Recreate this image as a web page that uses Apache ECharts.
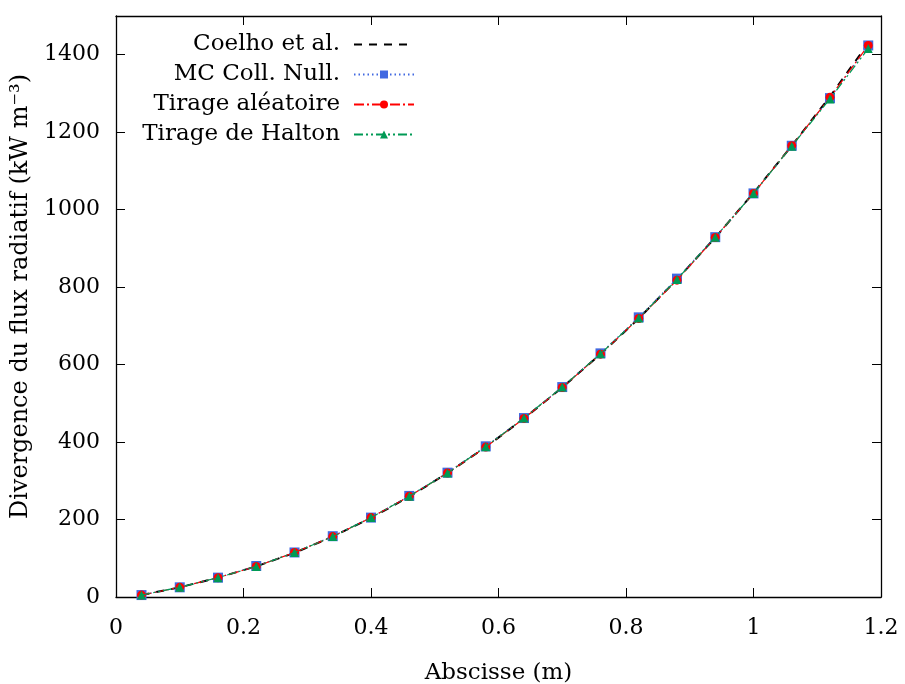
<!DOCTYPE html>
<html><head><meta charset="utf-8">
<script src="https://cdn.jsdelivr.net/npm/echarts@6/dist/echarts.min.js"></script>
<style>html,body{margin:0;padding:0;background:#fff}#c{width:905px;height:684px}</style>
</head><body><div id="c"></div>
<script>
const xs = [0.04,0.10,0.16,0.22,0.28,0.34,0.40,0.46,0.52,0.58,0.64,0.70,0.76,0.82,0.88,0.94,1.00,1.06,1.12,1.18];
const coelho = [5,25,50,79,114,156,204,259,320,387,461,541,627,719,820,928,1043,1165,1292,1430];
const mcNull = [5,25,50,80,115,157,205,261,321,389,462,542,629,722,822,929,1042,1165,1288,1424];
const tirageAlea = [5,25,50,79,115,156,205,260,320,387,461,541,627,719,818,928,1042,1165,1290,1424];
const tirageHalton = [5,25,50,79,115,156,205,260,320,388,462,542,628,720,820,929,1042,1164,1286,1416];
const seriesNames = ['Coelho et al.','MC Coll. Null.','Tirage aléatoire','Tirage de Halton'];

const pair = a => xs.map((x,i)=>[x,a[i]]);
const font = 'DejaVu Serif';
const chart = echarts.init(document.getElementById('c'));
const legendCenters = [43,73,103,133];
const axisCommon = {
  axisLine:{show:true,onZero:false,lineStyle:{color:'#000',width:1.3}},
  axisTick:{show:true,inside:true,length:9,lineStyle:{color:'#000',width:1}},
  splitLine:{show:false}
};
const legends = seriesNames.map((n,i)=>{
  const l = {
    data:[n], orient:'vertical', align:'right', right:490, top:legendCenters[i]-10,
    itemWidth:60, itemHeight:10, itemGap:0, padding:0,
    textStyle:{fontFamily:font,fontSize:23,color:'#000',padding:[0,9,0,0]}
  };
  if (i===0) l.itemStyle = {color:'rgba(0,0,0,0)',borderWidth:0};
  return l;
});
chart.setOption({
  animation:false,
  textStyle:{fontFamily:font},
  grid:{left:116,right:24,top:16,bottom:87,containLabel:false,outerBoundsMode:'none'},
  legend: legends,
  xAxis:[
    Object.assign({type:'value',min:0,max:1.2,interval:0.2,position:'bottom',
      name:'Abscisse (m)',nameLocation:'middle',nameGap:65,
      nameTextStyle:{fontFamily:font,fontSize:23,color:'#000'},
      axisLabel:{fontFamily:font,fontSize:22,color:'#000',margin:20,
        formatter:v=>String(+v.toFixed(1))}},axisCommon),
    Object.assign({type:'value',min:0,max:1.2,interval:0.2,position:'top',
      axisLabel:{show:false}},axisCommon)
  ],
  yAxis:[
    Object.assign({type:'value',min:0,max:1500,interval:200,position:'left',
      name:'Divergence du flux radiatif (kW m\u207B\u00B3)',nameLocation:'middle',nameGap:76,
      nameTextStyle:{fontFamily:font,fontSize:24,color:'#000',padding:[0,0,0,20]},
      axisLabel:{fontFamily:font,fontSize:22,color:'#000',margin:16,
        formatter:v=>v>1400?'':String(v)}},axisCommon),
    Object.assign({type:'value',min:0,max:1500,interval:200,position:'right',
      axisLabel:{show:false}},axisCommon)
  ],
  series:[
    {name:seriesNames[0],type:'line',data:pair(coelho),showSymbol:false,symbol:'none',
      lineStyle:{color:'#000',width:2,type:[8,7]},itemStyle:{color:'#000'},z:2},
    {name:seriesNames[1],type:'line',data:pair(mcNull),symbol:'rect',symbolSize:10,
      lineStyle:{color:'#4169E1',width:1.2,type:[1.5,3]},itemStyle:{color:'#4169E1'},z:3},
    {name:seriesNames[2],type:'line',data:pair(tirageAlea),symbol:'circle',symbolSize:9,
      lineStyle:{color:'#FF0000',width:1.2,type:[10,3,2,3]},itemStyle:{color:'#FF0000'},z:4},
    {name:seriesNames[3],type:'line',data:pair(tirageHalton),symbol:'triangle',symbolSize:9,
      lineStyle:{color:'#009A55',width:1.2,type:[9,3,2,3,2,3]},itemStyle:{color:'#009A55'},z:5}
  ]
});
</script></body></html>
